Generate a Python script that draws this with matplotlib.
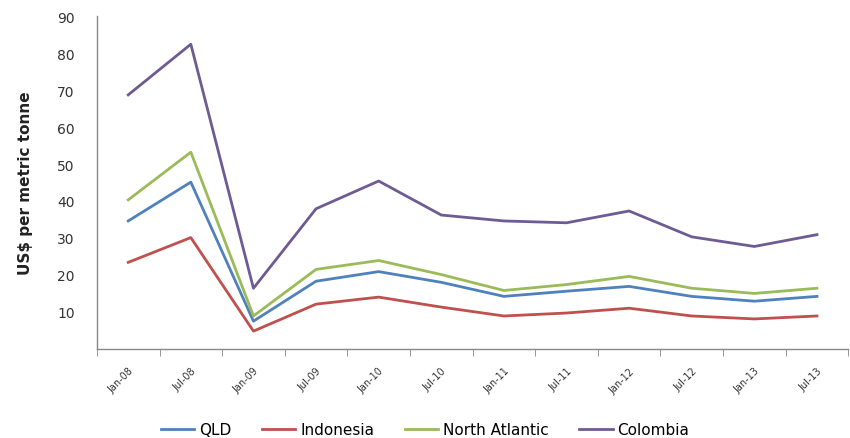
import matplotlib
matplotlib.use("Agg")
import matplotlib.pyplot as plt
import numpy as np

# Period labels (half-yearly)
periods = ["Jan-08", "Jul-08", "Jan-09", "Jul-09", "Jan-10", "Jul-10",
           "Jan-11", "Jul-11", "Jan-12", "Jul-12", "Jan-13", "Jul-13"]

# Prices, US$ per metric tonne
qld = [34.6, 45.1, 7.5, 18.3, 20.9, 18.0, 14.2, 15.6, 16.9, 14.2, 12.9, 14.2]
indonesia = [23.4, 30.1, 4.8, 12.1, 14.0, 11.3, 8.9, 9.7, 11.0, 8.9, 8.1, 8.9]
north_atlantic = [40.3, 53.2, 8.9, 21.5, 23.9, 20.1, 15.8, 17.4, 19.6, 16.4, 15.0, 16.4]
colombia = [68.7, 82.4, 16.4, 37.9, 45.4, 36.2, 34.6, 34.1, 37.3, 30.3, 27.7, 30.9]

series = [("QLD", qld, "#4F81BD"),
          ("Indonesia", indonesia, "#C0504D"),
          ("North Atlantic", north_atlantic, "#9BBB59"),
          ("Colombia", colombia, "#6F5B94")]

fig = plt.figure(figsize=(8.5, 4.39), dpi=100)
ax = fig.add_axes([0.114, 0.203, 0.884, 0.758])

x = np.arange(len(periods))
for name, vals, color in series:
    ax.plot(x, vals, color=color, linewidth=2.0, label=name)

ax.set_xlim(-0.5, len(periods) - 0.5)
ax.set_ylim(0, 90)

ax.set_yticks(np.arange(10, 91, 10))
ax.tick_params(axis="y", length=0, pad=16, labelsize=10, labelcolor="#333333")

ax.set_xticks(x)
ax.set_xticklabels(periods, rotation=45, ha="right", rotation_mode="anchor",
                   fontsize=7, color="#333333")
ax.tick_params(axis="x", which="major", length=0, pad=12)
ax.set_xticks(np.arange(-0.5, len(periods), 1), minor=True)
ax.tick_params(axis="x", which="minor", length=5, color="#888888", direction="out")

for side in ("top", "right"):
    ax.spines[side].set_visible(False)
for side in ("left", "bottom"):
    ax.spines[side].set_color("#888888")
    ax.spines[side].set_linewidth(1.0)

ax.set_ylabel("US$ per metric tonne", fontsize=11, fontweight="bold",
              color="#222222", labelpad=17)

fig.legend(loc="lower center", bbox_to_anchor=(0.5, -0.03), ncol=4,
           frameon=False, fontsize=11, handlelength=2.2, columnspacing=2.0,
           handletextpad=0.3)

fig.savefig("out.png", dpi=100)
